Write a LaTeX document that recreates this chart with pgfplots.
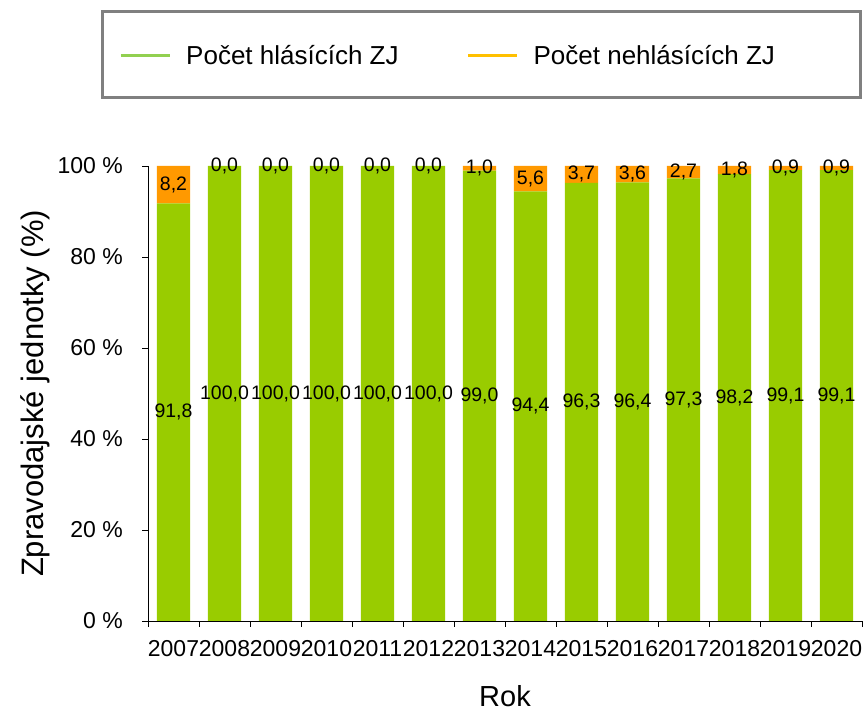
\documentclass[border=0pt]{standalone}
\usepackage{fontspec}
\setmainfont{Liberation Sans}
\usepackage{pgfplots}
\usepackage{pgfplotstable}
\pgfplotsset{compat=1.18}
\definecolor{barGreen}{HTML}{99CC00}
\definecolor{barOrange}{HTML}{FF9900}
\definecolor{legGreen}{HTML}{92D050}
\definecolor{legOrange}{HTML}{FFC000}
\definecolor{frame}{HTML}{808080}

% podiel hlasiacich / nehlasiacich ZJ v %
\pgfplotstableread{
x  hl    nh
0  91.8  8.2
1  100.0 0.0
2  100.0 0.0
3  100.0 0.0
4  100.0 0.0
5  100.0 0.0
6  99.0  1.0
7  94.4  5.6
8  96.3  3.7
9  96.4  3.6
10 97.3  2.7
11 98.2  1.8
12 99.1  0.9
13 99.1  0.9
}\data

\pgfplotsset{common/.style={scale only axis, width=714bp, height=455bp,
  at={(148bp,91bp)}, anchor=south west,
  xmin=-0.5, xmax=13.5, ymin=0, ymax=100, clip=false}}

\begin{document}
\begin{tikzpicture}
\begin{axis}[common, ybar stacked, bar width=0.65,
  axis lines*=left, axis line style={black, line width=0.8bp},
  tick align=outside, tick style={black, line width=0.8bp},
  major tick length=6bp, minor tick length=6bp,
  xtick={0,...,13},
  xticklabels={2007,2008,2009,2010,2011,2012,2013,2014,2015,2016,2017,2018,2019,2020},
  major x tick style={draw=none},
  minor xtick={-0.5,0.5,...,13.5},
  ytick={0,20,...,100},
  yticklabels={0 \%,20 \%,40 \%,60 \%,80 \%,100 \%},
  xticklabel style={font=\fontsize{23bp}{27bp}\selectfont, anchor=base, yshift=-30bp},
  yticklabel style={font=\fontsize{23bp}{27bp}\selectfont, anchor=east, inner sep=0pt, xshift=-19bp},
  xlabel={Rok},
  xlabel style={font=\fontsize{29bp}{33bp}\selectfont, at={(axis description cs:0.5,-0.188)}, anchor=base},
  ylabel={Zpravodajské jednotky (\%)},
  ylabel style={font=\fontsize{31bp}{35bp}\selectfont, at={(axis description cs:-0.158,0.5)}, anchor=center},
  legend columns=2, legend cell align=left,
  legend style={draw=none, fill=none, inner sep=0pt,
    at={(axis description cs:-0.0406,1.2418)}, anchor=west,
    font=\fontsize{26bp}{30bp}\selectfont, nodes={inner sep=0pt},
    /tikz/every odd column/.append style={column sep=15bp},
    /tikz/every even column/.append style={column sep=68bp}},
]
\addplot[fill=barGreen, draw=none,
  legend image code/.code={\draw[legGreen, line width=3bp] (0bp,0bp) -- (49bp,0bp);}]
  table[x=x, y=hl] {\data};
\addplot[fill=barOrange, draw=none,
  legend image code/.code={\draw[legOrange, line width=3bp] (0bp,0bp) -- (49bp,0bp);}]
  table[x=x, y=nh] {\data};
\legend{Počet hlásících ZJ, Počet nehlásících ZJ}
\end{axis}

% popisky hodnot uprostred segmentov
\begin{axis}[common, hide axis,
  nodes near coords, nodes near coords align={center}, point meta=explicit,
  every node near coord/.append style={font=\fontsize{19.5bp}{23bp}\selectfont, text=black, inner sep=0pt},
  /pgf/number format/.cd, use comma, fixed, fixed zerofill, precision=1, assume math mode=true]
\addplot[draw=none, mark=none] table[x=x, y expr=\thisrow{hl}/2, meta=hl] {\data};
\addplot[draw=none, mark=none] table[x=x, y expr=\thisrow{hl}+\thisrow{nh}/2, meta=nh] {\data};
\end{axis}

\draw[frame, line width=3bp] (102bp,614bp) rectangle (860bp,700bp);
\pgfresetboundingbox
\useasboundingbox (0,0) rectangle (864bp,712bp);
\end{tikzpicture}
\end{document}
